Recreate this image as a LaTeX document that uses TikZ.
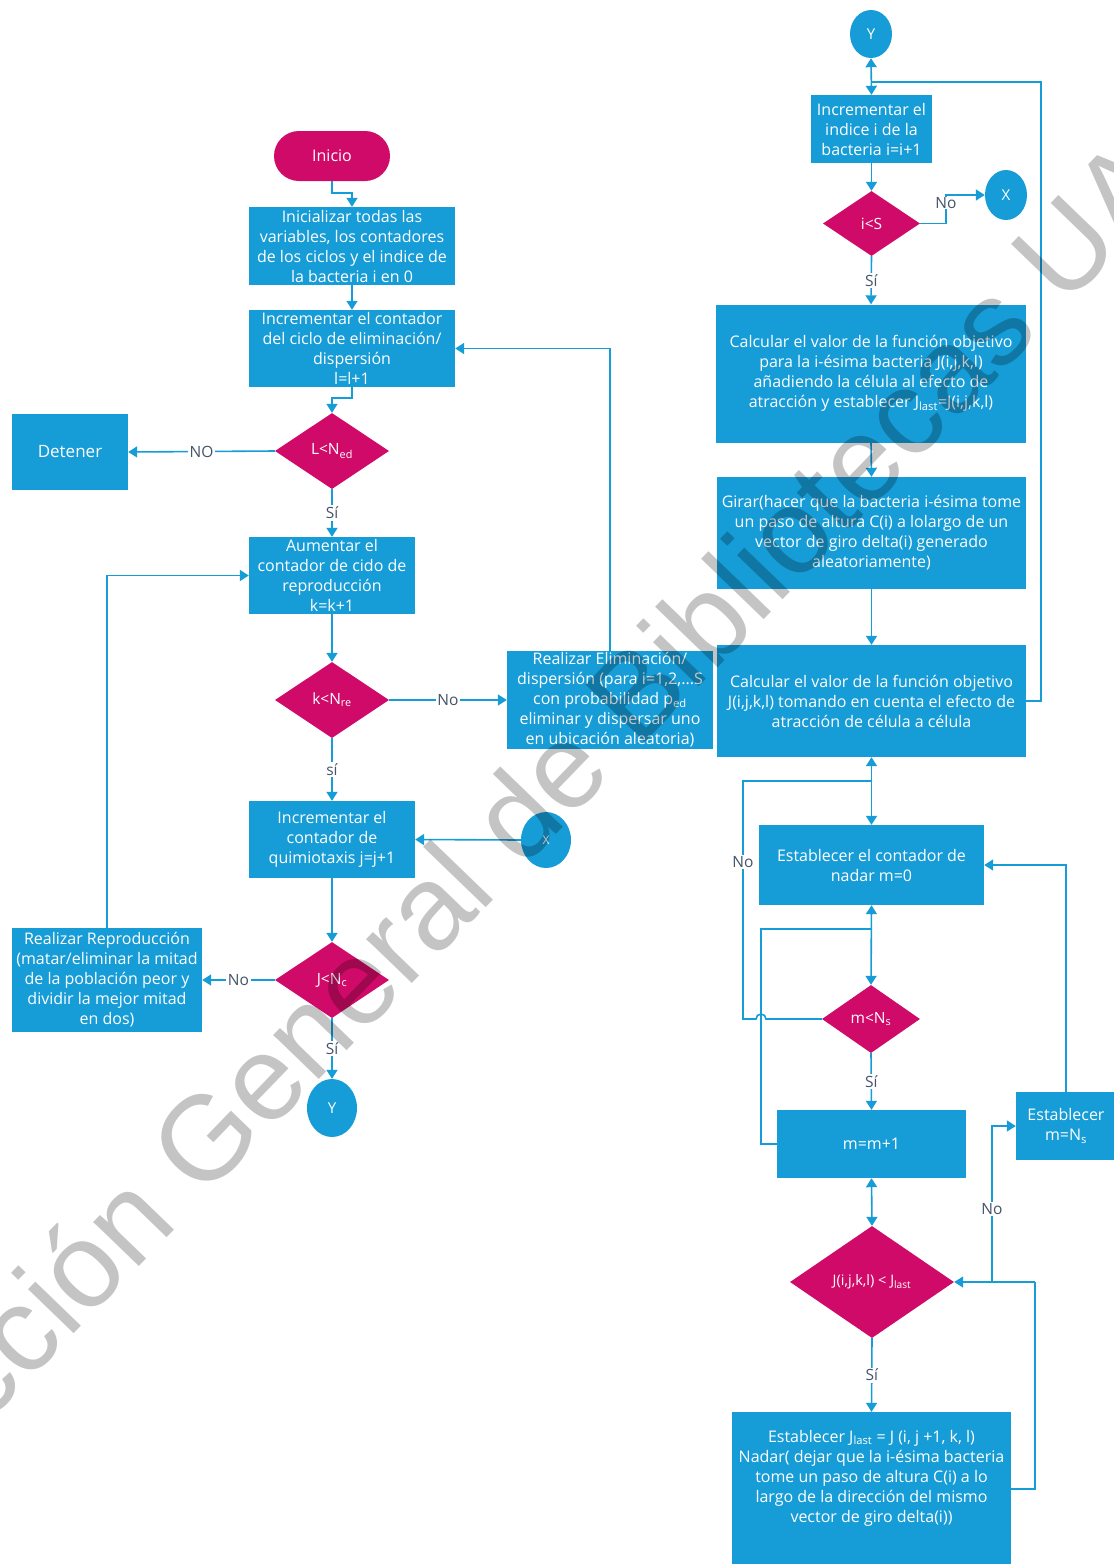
\documentclass[tikz,border=0pt]{standalone}
\usepackage{fontspec}
\setmainfont{Open Sans}
\newfontfamily\wmfont{Liberation Sans}
\usetikzlibrary{shapes.geometric,arrows.meta,calc}
\definecolor{bblue}{RGB}{22,156,214}
\definecolor{mag}{RGB}{208,10,104}
\definecolor{lblc}{RGB}{68,84,106}
\newcommand{\sbs}[1]{\textsubscript{#1}}
\begin{document}
\begin{tikzpicture}[x=1pt,y=-1pt,
  box/.style={rectangle, fill=bblue, text=white, align=center, inner sep=0pt, font=\fontsize{16}{20}\selectfont},
  dia/.style={diamond, fill=mag, text=white, inner sep=0pt, font=\fontsize{15.5}{18}\selectfont},
  conn/.style={ellipse, fill=bblue, text=white, inner sep=0pt, font=\fontsize{15}{18}\selectfont},
  ln/.style={draw=bblue, line width=1.6pt},
  arr/.style={ln, -{Triangle[length=9pt,width=11pt]}},
  darr/.style={ln, {Triangle[length=9pt,width=11pt]}-{Triangle[length=9pt,width=11pt]}},
  lbl/.style={fill=white, text=lblc, inner sep=1.5pt, font=\fontsize{15.5}{18}\selectfont}
]
\useasboundingbox (0,0) rectangle (1114,1564);
\fill[white] (0,0) rectangle (1114,1564);
\clip (0,0) rectangle (1114,1564);

% ---------- left column ----------
\node[fill=mag, text=white, rounded corners=25pt, minimum width=116pt, minimum height=50pt, inner sep=0pt, font=\fontsize{16}{18}\selectfont] (inicio) at (332,156) {Inicio};
\node[box, minimum width=206pt, minimum height=78pt] (init) at (352,246) {Inicializar todas las\\variables, los contadores\\de los ciclos y el indice de\\la bacteria i en 0};
\node[box, minimum width=206pt, minimum height=77pt] (incl) at (352,348.5) {Incrementar el contador\\del ciclo de eliminación/\\dispersión\\l=l+1};
\node[dia, minimum width=114pt, minimum height=76pt] (dl) at (332,451) {L<N\sbs{ed}};
\node[box, minimum width=116pt, minimum height=76pt, font=\fontsize{17}{20}\selectfont] (detener) at (70,452) {Detener};
\node[box, minimum width=166pt, minimum height=77pt] (aum) at (332,575.5) {Aumentar el\\contador de cido de\\reproducción\\k=k+1};
\node[dia, minimum width=114pt, minimum height=76pt] (dk) at (332,700) {k<N\sbs{re}};
\node[box, minimum width=206pt, minimum height=98pt] (elim) at (610,700) {Realizar Eliminación/\\dispersión (para i=1,2,...S\\con probabilidad p\sbs{ed}\\eliminar y dispersar uno\\en ubicación aleatoria)};
\node[box, minimum width=166pt, minimum height=77pt] (quim) at (332,839.5) {Incrementar el\\contador de\\quimiotaxis j=j+1};
\node[conn, minimum width=50pt, minimum height=56pt, font=\fontsize{12}{14}\selectfont] (xl) at (546,840) {X};
\node[dia, minimum width=114pt, minimum height=76pt] (dj) at (332,980) {J<N\sbs{c}};
\node[box, minimum width=190pt, minimum height=104pt] (repro) at (107,980) {Realizar Reproducción\\(matar/eliminar la mitad\\de la población peor y\\dividir la mejor mitad\\en dos)};
\node[conn, minimum width=50pt, minimum height=58pt] (yl) at (332,1108) {Y};

\draw[arr] (inicio.south) -- ++(0,12) -| (init.north);
\draw[arr] (init.south) -- (incl.north);
\draw[arr] (incl.south) -- ++(0,11) -| (dl.north);
\draw[arr] (dl.west) -- node[lbl]{NO} (detener.east);
\draw[arr] (dl.south) -- node[lbl]{Sí} (aum.north);
\draw[arr] (aum.south) -- (dk.north);
\draw[arr] (dk.east) -- node[lbl]{No} (elim.west);
\draw[arr] (elim.north) |- (incl.east);
\draw[arr] (dk.south) -- node[lbl]{sí} (quim.north);
\draw[arr] (xl.west) -- (quim.east);
\draw[arr] (quim.south) -- (dj.north);
\draw[arr] (dj.west) -- node[lbl]{No} (repro.east);
\draw[arr] (repro.north) |- (aum.west);
\draw[arr] (dj.south) -- node[lbl]{Sí} (yl.north);

% ---------- right column ----------
\node[conn, minimum width=42pt, minimum height=48pt] (yr) at (871,34) {Y};
\node[box, minimum width=121pt, minimum height=68pt] (inci) at (871.5,129) {Incrementar el\\indice i de la\\bacteria i=i+1};
\node[dia, minimum width=97pt, minimum height=65pt] (dis) at (871.5,223.5) {i<S};
\node[conn, minimum width=42pt, minimum height=50pt] (xr) at (1006,195) {X};
\node[box, minimum width=310pt, minimum height=138pt] (calc1) at (871,373.5) {Calcular el valor de la función objetivo\\para la i-ésima bacteria J(i,j,k,l)\\añadiendo la célula al efecto de\\atracción y establecer J\sbs{last}=J(i,j,k,l)};
\node[box, minimum width=309pt, minimum height=112pt] (girar) at (871.5,533) {Girar(hacer que la bacteria i-ésima tome\\un paso de altura C(i) a lolargo de un\\vector de giro delta(i) generado\\aleatoriamente)};
\node[box, minimum width=309pt, minimum height=112pt] (calc2) at (871.5,701) {Calcular el valor de la función objetivo\\J(i,j,k,l) tomando en cuenta el efecto de\\atracción de célula a célula};
\node[box, minimum width=225pt, minimum height=80pt] (m0) at (871.5,865) {Establecer el contador de\\nadar m=0};
\node[dia, minimum width=98pt, minimum height=68pt] (dm) at (871,1019) {m<N\sbs{s}};
\node[box, minimum width=189pt, minimum height=68pt] (mm) at (871.5,1144) {m=m+1};
\node[dia, minimum width=164pt, minimum height=112pt, font=\fontsize{14.5}{16}\selectfont] (dJ) at (872,1282) {J(i,j,k,l) < J\sbs{last}};
\node[box, minimum width=100pt, minimum height=68pt] (estNs) at (1066,1126) {Establecer\\m=N\sbs{s}};
\node[box, minimum width=279pt, minimum height=132pt] (nadar) at (871.5,1478) {Establecer J\sbs{last} = J (i, j +1, k, l)\\Nadar( dejar que la i-ésima bacteria\\tome un paso de altura C(i) a lo\\largo de la dirección del mismo\\vector de giro delta(i))};
\fill[bblue] (nadar.south west) rectangle ([yshift=-60pt]nadar.south east);

\coordinate (j1) at (871.5,82);
\coordinate (r1) at (1041,82);
\coordinate (j2) at (871.5,781);
\coordinate (j3) at (871.5,929);
\coordinate (c3) at (761,929);
\coordinate (c5) at (1035,1282);
\coordinate (c6) at (992,1282);

\draw[darr] (yr.south) -- (inci.north);
\draw[ln] (calc2.east) -| (r1) -- (j1);
\draw[arr] (inci.south) -- (dis.north);
\draw[arr] (dis.east) -- ++(26,0) |- (xr.west);
\node[lbl, inner sep=0.5pt] (nolbl1) at (946,203) {No};
\draw[arr] (dis.south) -- node[lbl]{Sí} (calc1.north);
\draw[arr] (calc1.south) -- (girar.north);
\draw[arr] (girar.south) -- (calc2.north);
\draw[darr] (calc2.south) -- (m0.north);
\draw[ln] (dm.west) -- (766,1019) arc[start angle=0, end angle=180, radius=5pt] -- (743,1019) -- (743,781) -- (j2);
\node[lbl] (nolbl2) at (743,862) {No};
\draw[darr] (m0.south) -- (dm.north);
\draw[ln] (mm.west) -| (c3) -- (j3);
\draw[arr] (dm.south) -- node[lbl]{Sí} (mm.north);
\draw[darr] (mm.south) -- (dJ.north);
\draw[arr] (dJ.south) -- node[lbl]{Sí} (nadar.north);
\draw[ln] ([yshift=-11pt]nadar.east) -| (c5);
\draw[arr] (c5) -- (dJ.east);
\draw[arr] (c6) |- (estNs.west);
\node[lbl] (nolbl3) at (992,1209) {No};
\draw[arr] (estNs.north) |- (m0.east);

% ---------- watermark ----------
\node[rotate=46, text=black, text opacity=0.23, inner sep=0pt, font=\wmfont\fontsize{120}{120}\selectfont] (wm) at (515,830) {Dirección General de Bibliotecas UAQ};
\end{tikzpicture}
\end{document}
